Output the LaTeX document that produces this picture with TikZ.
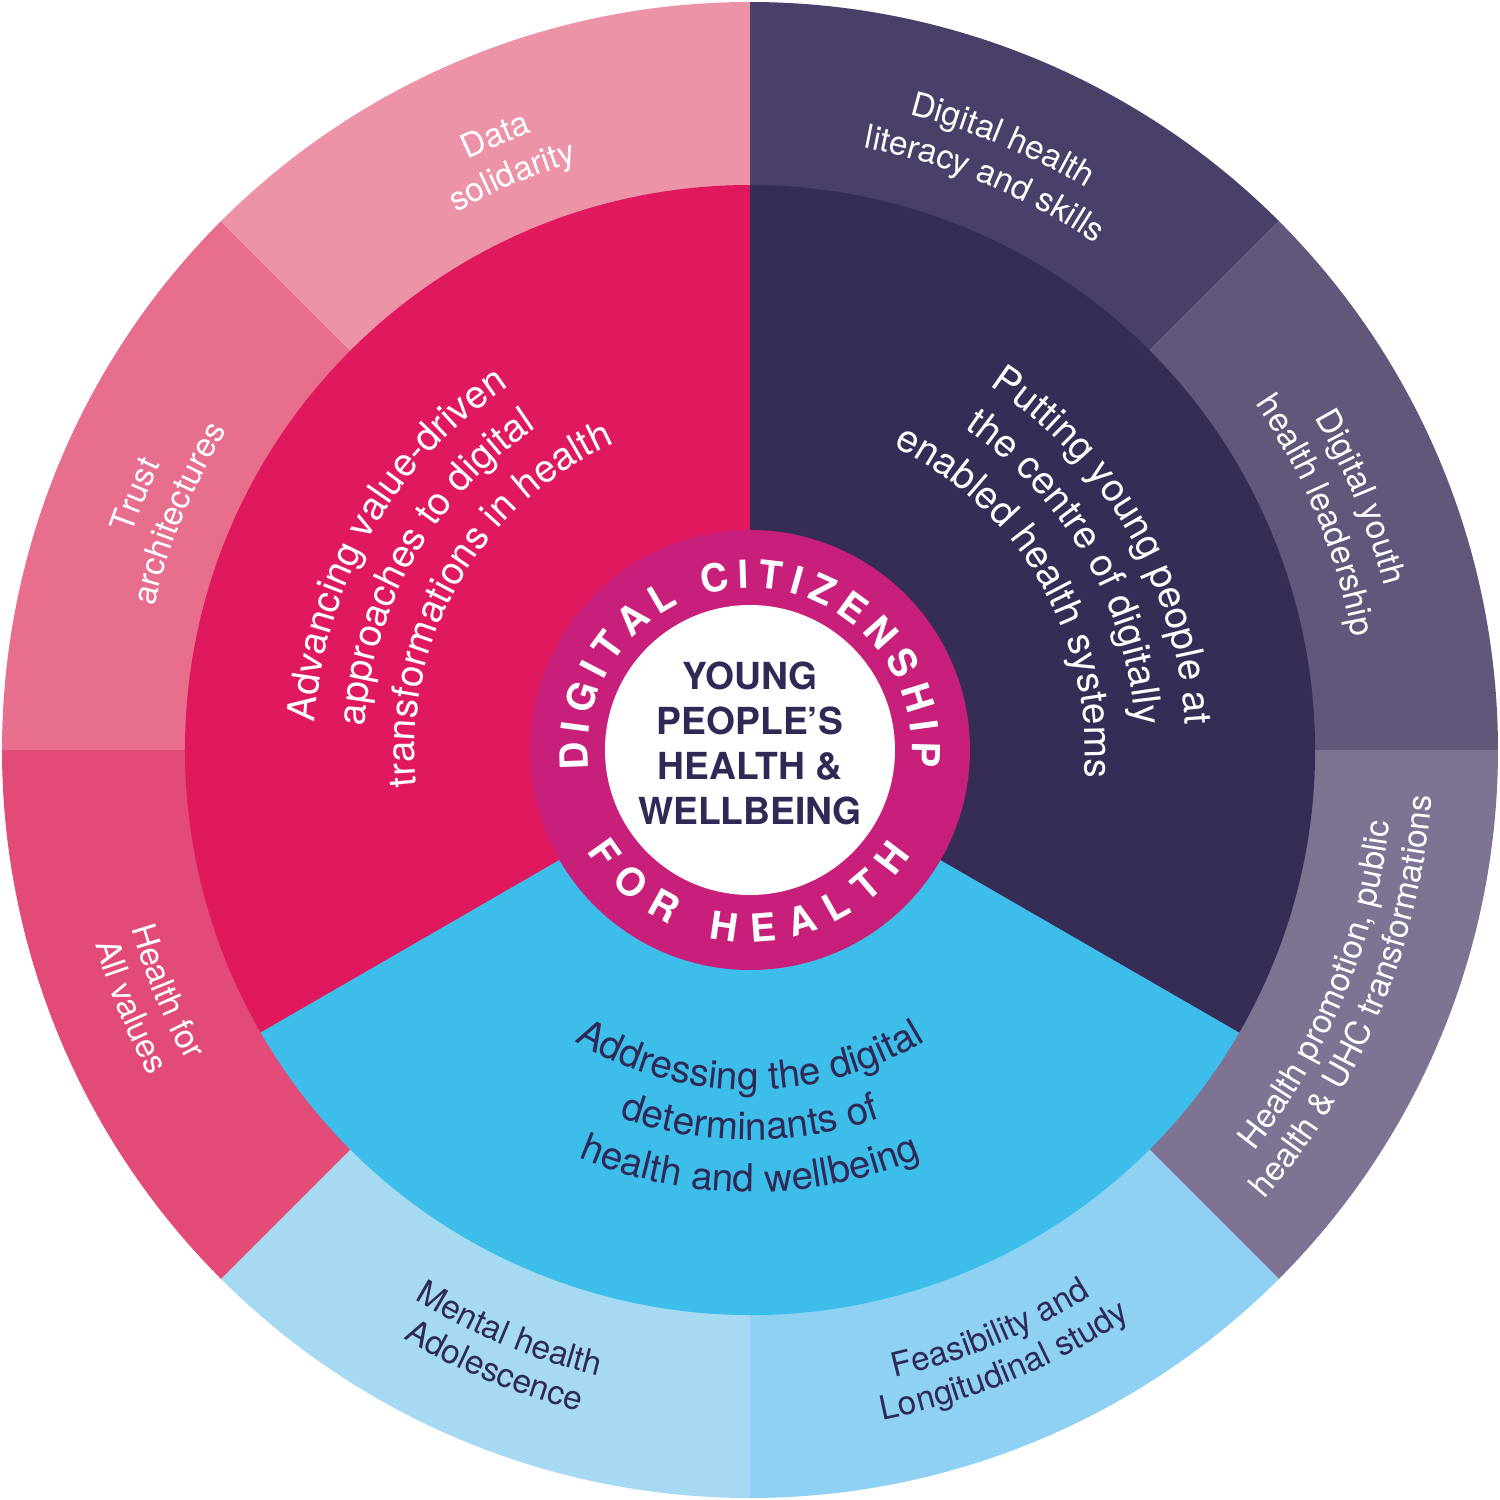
\documentclass[tikz,border=0pt]{standalone}
\usepackage{fontspec}
\setmainfont{TeX Gyre Heros}
\usepackage{tikz}
\usetikzlibrary{decorations.text}
\definecolor{pink1}{rgb}{0.925, 0.576, 0.659}
\definecolor{pink2}{rgb}{0.906, 0.431, 0.553}
\definecolor{pink3}{rgb}{0.886, 0.290, 0.467}
\definecolor{magenta1}{rgb}{0.878, 0.098, 0.373}
\definecolor{navy1}{rgb}{0.208, 0.176, 0.337}
\definecolor{purple1}{rgb}{0.290, 0.247, 0.408}
\definecolor{purple2}{rgb}{0.384, 0.341, 0.478}
\definecolor{purple3}{rgb}{0.494, 0.451, 0.576}
\definecolor{blue1}{rgb}{0.561, 0.820, 0.949}
\definecolor{blue2}{rgb}{0.651, 0.855, 0.953}
\definecolor{cyan1}{rgb}{0.239, 0.741, 0.918}
\definecolor{ring1}{rgb}{0.784, 0.122, 0.478}
\definecolor{navytext}{rgb}{0.180, 0.165, 0.333}
\newcommand{\sectfont}{\fontsize{11}{13}\selectfont}
\newcommand{\outfont}{\fontsize{9.5}{11}\selectfont}
\newcommand{\ringfont}{\fontsize{11}{13}\selectfont\bfseries}

\begin{document}
\begin{tikzpicture}
\tikzstyle{label1} = [decorate, decoration={text along path, text align=center, text color=white}]
\tikzstyle{label2} = [decorate, decoration={text along path, text align=center, text color=navytext}]
\tikzstyle{ringtext} = [decorate, decoration={text along path, text align={fit to path}, text color=white}]

\useasboundingbox (-7.5,-7.5) rectangle (7.5,7.5);

\fill [purple1] (0,0) -- (90:7.48) arc[start angle=90, end angle=45, radius=7.48] -- cycle;
\fill [purple2] (0,0) -- (45:7.48) arc[start angle=45, end angle=0, radius=7.48] -- cycle;
\fill [purple3] (0,0) -- (0:7.48) arc[start angle=0, end angle=-45, radius=7.48] -- cycle;
\fill [blue1] (0,0) -- (-45:7.48) arc[start angle=-45, end angle=-90, radius=7.48] -- cycle;
\fill [blue2] (0,0) -- (-90:7.48) arc[start angle=-90, end angle=-135, radius=7.48] -- cycle;
\fill [pink3] (0,0) -- (180:7.48) arc[start angle=180, end angle=225, radius=7.48] -- cycle;
\fill [pink2] (0,0) -- (135:7.48) arc[start angle=135, end angle=180, radius=7.48] -- cycle;
\fill [pink1] (0,0) -- (90:7.48) arc[start angle=90, end angle=135, radius=7.48] -- cycle;

\fill [magenta1] (0,0) -- (90:5.65) arc[start angle=90, end angle=210, radius=5.65] -- cycle;
\fill [cyan1] (0,0) -- (210:5.65) arc[start angle=210, end angle=330, radius=5.65] -- cycle;
\fill [navy1] (0,0) -- (-30:5.65) arc[start angle=-30, end angle=90, radius=5.65] -- cycle;

\fill [ring1] (0,0) circle (2.2);
\fill [white] (0,0) circle (1.45);

\path [ringtext, decoration={text={|\ringfont|DIGITAL CITIZENSHIP}}] (187:1.62) arc[start angle=187, end angle=-6, radius=1.62];
\path [ringtext, decoration={text={|\ringfont|FOR HEALTH}}] (212:1.92) arc[start angle=212, end angle=327, radius=1.92];

\node (centre) at (0,0.07) [align=center, text=navytext, font=\fontsize{10.6}{12.8}\selectfont\bfseries] {YOUNG\\PEOPLE'S\\HEALTH \&\\WELLBEING};

\path [label1, decoration={text={|\sectfont|Advancing value-driven}}] (210:4.36) arc[start angle=210, end angle=90, radius=4.36];
\path [label1, decoration={text={|\sectfont|approaches to digital}}] (210:3.86) arc[start angle=210, end angle=90, radius=3.86];
\path [label1, decoration={text={|\sectfont|transformations in health}}] (210:3.35) arc[start angle=210, end angle=90, radius=3.35];

\path [label1, decoration={text={|\sectfont|Putting young people at}}] (90:4.36) arc[start angle=90, end angle=-30, radius=4.36];
\path [label1, decoration={text={|\sectfont|the centre of digitally}}] (90:3.86) arc[start angle=90, end angle=-30, radius=3.86];
\path [label1, decoration={text={|\sectfont|enabled health systems}}] (90:3.35) arc[start angle=90, end angle=-30, radius=3.35];

\path [label2, decoration={text={|\sectfont|Addressing the digital}}] (210:3.40) arc[start angle=210, end angle=330, radius=3.40];
\path [label2, decoration={text={|\sectfont|determinants of}}] (210:3.90) arc[start angle=210, end angle=330, radius=3.90];
\path [label2, decoration={text={|\sectfont|health and wellbeing}}] (210:4.42) arc[start angle=210, end angle=330, radius=4.42];

\path [label1, decoration={text={|\outfont|Digital health}}] (107.5:6.55) arc[start angle=107.5, end angle=27.5, radius=6.55];
\path [label1, decoration={text={|\outfont|literacy and skills}}] (107.5:6.13) arc[start angle=107.5, end angle=27.5, radius=6.13];
\path [label1, decoration={text={|\outfont|Digital youth}}] (62.5:6.55) arc[start angle=62.5, end angle=-17.5, radius=6.55];
\path [label1, decoration={text={|\outfont|health leadership}}] (62.5:6.13) arc[start angle=62.5, end angle=-17.5, radius=6.13];
\path [label1, decoration={text={|\outfont|Data}}] (152.5:6.55) arc[start angle=152.5, end angle=72.5, radius=6.55];
\path [label1, decoration={text={|\outfont|solidarity}}] (152.5:6.13) arc[start angle=152.5, end angle=72.5, radius=6.13];
\path [label1, decoration={text={|\outfont|Trust}}] (197.5:6.55) arc[start angle=197.5, end angle=117.5, radius=6.55];
\path [label1, decoration={text={|\outfont|architectures}}] (197.5:6.13) arc[start angle=197.5, end angle=117.5, radius=6.13];

\path [label1, decoration={text={|\outfont|Health for}}] (162.5:6.44) arc[start angle=162.5, end angle=242.5, radius=6.44];
\path [label1, decoration={text={|\outfont|All values}}] (162.5:6.83) arc[start angle=162.5, end angle=242.5, radius=6.83];
\path [label2, decoration={text={|\outfont|Mental health}}] (207.5:6.44) arc[start angle=207.5, end angle=287.5, radius=6.44];
\path [label2, decoration={text={|\outfont|Adolescence}}] (207.5:6.83) arc[start angle=207.5, end angle=287.5, radius=6.83];
\path [label2, decoration={text={|\outfont|Feasibility and}}] (252.5:6.44) arc[start angle=252.5, end angle=332.5, radius=6.44];
\path [label2, decoration={text={|\outfont|Longitudinal study}}] (252.5:6.83) arc[start angle=252.5, end angle=332.5, radius=6.83];
\path [label1, decoration={text={|\outfont|Health promotion, public}}] (297.5:6.44) arc[start angle=297.5, end angle=377.5, radius=6.44];
\path [label1, decoration={text={|\outfont|health {\&} UHC transformations}}] (297.5:6.83) arc[start angle=297.5, end angle=377.5, radius=6.83];
\end{tikzpicture}
\end{document}
